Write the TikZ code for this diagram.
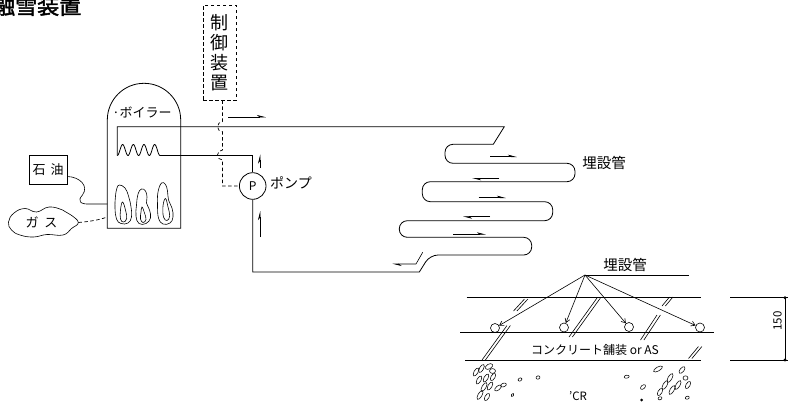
\documentclass[tikz,border=0pt]{standalone}
\usepackage{fontspec}
\setmainfont{Noto Sans CJK JP}
\newfontfamily\titlefont[FakeBold=2]{Noto Sans CJK JP}
\usetikzlibrary{arrows.meta}

\begin{document}
\begin{tikzpicture}[x=1pt,y=-1pt,
  pipe/.style={line width=0.8pt},
  thin/.style={line width=0.6pt},
  ctrl/.style={line width=0.7pt, dash pattern=on 3.5pt off 2.5pt},
  flow/.style={line width=0.6pt, -{Stealth[harpoon,length=8pt,width=4pt]}},
  tip/.style={line width=0.6pt, -{Straight Barb[length=4pt,width=5pt]}},
  lbl/.style={inner sep=0pt, font=\fontsize{13}{15}\selectfont},
  pebble/.style={line width=0.55pt}]
\useasboundingbox (0,0) rectangle (793,405);
\clip (0,0) rectangle (793,405);

% ---------- heading ----------
\node[anchor=base west, inner sep=0pt, font=\titlefont\fontsize{22}{22}\selectfont] (title) at (-7,14) {融雪装置};

% ---------- control unit ----------
\node[draw, ctrl, minimum width=33pt, minimum height=95pt, inner sep=0pt, align=center,
      font=\fontsize{18}{20}\selectfont] (ctl) at (219.7,52.5) {制\\御\\装\\置};

% ---------- boiler ----------
\draw[pipe] (107.3,228.3) -- (107.3,120) arc[start angle=180, end angle=0, radius=36.7pt]
  -- (180.7,228.3) -- cycle;
\node[lbl] (boilerlbl) at (142,112) {·ボイラー};
\coordinate (oilIn) at (107.3,204);
\coordinate (gasIn) at (107.3,217);

% burner flames
\foreach \dx/\sc in {0/1} {}
\draw[thin] plot[smooth cycle, tension=0.7] coordinates
  {(119.5,185) (125,188) (128.5,196) (131,207) (131.5,217) (128,223) (121,223.5) (116.5,219) (115,208) (115.5,196) (117,188)};
\draw[thin] plot[smooth cycle, tension=0.7] coordinates
  {(122.5,202) (125.5,210) (126.7,218.5) (123.5,222) (120.5,219) (120.5,210)};
\draw[thin] plot[smooth cycle, tension=0.7] coordinates
  {(141.5,189) (145.5,191) (147,197) (146.5,203) (149.5,210) (150.5,218) (146,223.5) (139,223.5) (136,216) (136.5,205) (138,194)};
\draw[thin] plot[smooth cycle, tension=0.7] coordinates
  {(142,207) (144.5,213) (146,219.5) (143,222.5) (140.5,219) (141,212)};
\draw[thin] plot[smooth cycle, tension=0.7] coordinates
  {(161.5,183) (165.5,184.5) (167.5,191) (168.5,200) (172,208) (173,217) (170,223) (163,224) (158.5,218) (157.5,205) (158,192)};
\draw[thin] plot[smooth cycle, tension=0.7] coordinates
  {(165.5,198.5) (168,207) (169.7,216) (167,220.5) (163.5,217) (163,206)};

% ---------- fuel supply ----------
\node[draw, thin, minimum width=38pt, minimum height=29pt, inner sep=0pt,
      font=\fontsize{13}{15}\selectfont] (oil) at (48.2,169.5) {石\hspace{5pt}油};
\draw[thin] ([yshift=-7pt]oil.east) .. controls (80,177) and (89,186) .. (82.5,195)
  .. controls (77,201) and (80,204.5) .. (90,204) -- (oilIn);

\draw[thin] plot[smooth cycle, tension=0.75] coordinates
  {(8.5,222) (14,213) (25,208.5) (36.5,212) (49,207) (62.5,210) (71,215) (78.3,222.5)
   (71.5,228.5) (63,235) (47,234.5) (33.5,237) (20,235) (11.5,230)};
\node[lbl] (gas) at (41.5,222) {ガ\hspace{6pt}ス};
\coordinate (gasOut) at (78.3,222.5);
\draw[ctrl] (gasOut) .. controls (90,221.5) and (99,220) .. (gasIn);

% ---------- pump ----------
\node[draw, pipe, circle, minimum size=26.6pt, inner sep=0pt,
      font=\fontsize{12}{12}\selectfont] (pump) at (252.7,186) {P};
\node[inner sep=0pt, font=\fontsize{14}{16}\selectfont] (pumplbl) at (291,183) {ポンプ};

% ---------- heating coil and buried pipe loop ----------
\coordinate (coilL) at (117.3,155.5);
\coordinate (coilR) at (160,155.5);
\draw[pipe] plot[domain=0:4, samples=90, smooth] ({117.3+10.675*\x},{150-5.5*sin(360*\x-90)});
\draw[pipe] (pump.north) -- (252.7,155.5) -- (coilR);
\draw[pipe] (coilL) -- (117.3,126.7) -- (504.3,126.7) -- (493.3,144.3)
  [rounded corners=8pt] -- (445,144.3) -- (445,163.3) -- (575,163.3) -- (575,181.7)
  -- (422.3,181.7) -- (422.3,201.7) -- (552.7,201.7) -- (552.7,220.7)
  -- (399.3,220.7) -- (399.3,237.3) -- (531.7,237.3) -- (531.7,255) -- (430,255)
  [sharp corners] -- (419.3,272) -- (252.7,272) -- (pump.south);
\node[inner sep=0pt, font=\fontsize{14.5}{16}\selectfont] (coillbl) at (604,163) {埋設管};

% control signal line hopping over the pipes
\draw[ctrl] ([xshift=2.8pt]ctl.south) -- (222.5,121.7)
  arc[start angle=90, end angle=270, radius=5pt] -- (222.5,150)
  arc[start angle=90, end angle=270, radius=5pt] -- (222.5,186) -- (pump.west);

% flow direction marks
\draw[flow] (228,117) -- (266,117);
\draw[flow] (260,168) -- (260,154.5);
\draw[flow] (260,237) -- (260,211);
\draw[flow] (490,156.7) -- (517,156.7);
\draw[flow] (499.3,178.3) -- (472,178.3);
\draw[flow] (478.7,197.7) -- (506,197.7);
\draw[flow] (490,216.7) -- (463,216.7);
\draw[flow] (453.3,234.3) -- (486,234.3);
\draw[flow] (422.7,252.3) -- (416,264) -- (392.5,264);

% ---------- pavement section ----------
\coordinate (apex) at (585,275);
\draw[thin] (apex) -- (689,275);
\node[inner sep=0pt, font=\fontsize{14.5}{16}\selectfont] (seclbl) at (625,264.5) {埋設管};

\draw[thin] (466.7,297.7) -- (701,297.7);
\draw[thin] (460,332.7) -- (714,332.7);
\draw[thin] (465,360) -- (701,360);

\foreach \n/\px/\py in {p1/495/328, p2/564/327.5, p3/629/327, p4/700/327.5}
  \node[draw, thin, circle, minimum size=9pt, inner sep=0pt] (\n) at (\px,\py) {};
\foreach \n in {p1,p2,p3,p4}
  \draw[tip] (apex) -- (\n);

% joints / cracks through the slab
\foreach \ax/\ay/\bx/\by in {524.5/299/513.5/311, 507/325.5/482/360, 597/298/569/337,
                               669.5/297/662/306, 657/315/640.5/340, 698.5/346.5/688.5/358.5}
{
  \draw[thin] (\ax,\ay) -- (\bx,\by);
  \draw[thin] (\ax+3.4,\ay) -- (\bx+3.4,\by);
}

\node[inner sep=0pt, font=\fontsize{12}{14}\selectfont] (slablbl) at (595,349.5) {コンクリート舗装 or AS};

% thickness dimension
\draw[thin] (730,297.7) -- (788,297.7);
\draw[thin] (730,360) -- (788,360);
\draw[thin] (785,297.7) -- (785,360);
\fill (785,297.7) circle[radius=1.6pt];
\fill (785,360) circle[radius=1.6pt];
\node[inner sep=0pt, rotate=90, font=\fontsize{11.5}{12}\selectfont] (dimlbl) at (777.5,321) {150};

% crushed-stone base
\foreach \px/\py/\rx/\ry/\rot in {
  476/372/4.5/2/60, 481.5/368.5/4.5/2/60, 489/366.5/4/2.4/30, 492.5/371/3/2.4/0,
  479/380/4.5/2/60, 486/378/4.5/2/60, 493/377/4/2/60, 484/387/5/2/60,
  490/386/4.5/2/60, 480/395/5/2/60, 487/397/4/2/60, 498/388/4/2/40, 503.5/385/3/1.8/20,
  520/379.5/2/1.5/30, 538/377.5/2/1.6/20, 512.5/395/1.8/1.3/60,
  626.7/376.7/2.5/1.5/10, 658/369/5/2/30, 682/370/4/2/50, 685.5/378/2.5/2.2/0,
  643/387/3/1.8/40, 665/385/5/2/60, 670/378/5/2/60, 672/390/5/2/60, 678/385/5/2/60,
  660/392/4/2/60, 688/385/4/2/60, 660/398.3/2/1.5/20, 687.3/397.7/2/1.5/20}
  \draw[pebble] (\px,\py) ellipse[x radius=\rx pt, y radius=\ry pt, rotate=\rot];
\fill (641.7,400) circle[radius=1.5pt];
\node[inner sep=0pt, font=\fontsize{11.5}{12}\selectfont] (baselbl) at (578,396) {'CR};

\end{tikzpicture}
\end{document}
